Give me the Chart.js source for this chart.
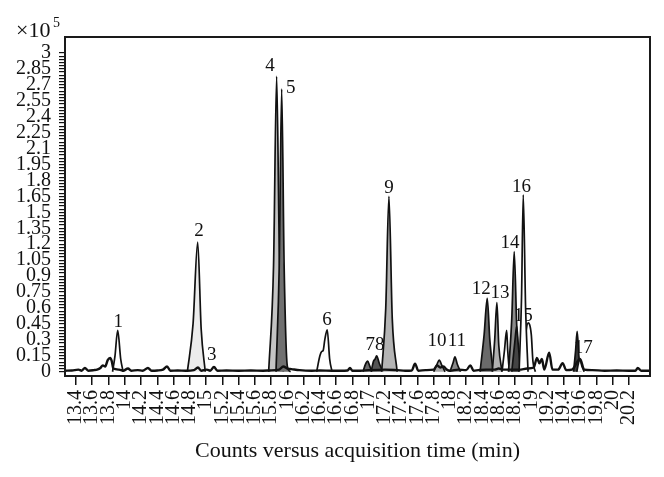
<!DOCTYPE html>
<html>
<head>
<meta charset="utf-8">
<script src="https://cdn.jsdelivr.net/npm/chart.js@4.4.1/dist/chart.umd.min.js"></script>
<style>
  html, body { margin: 0; padding: 0; background: #ffffff; }
  #wrap { width: 664px; height: 477px; }
</style>
</head>
<body>
<div id="wrap"><canvas id="c" width="664" height="477"></canvas></div>
<script>
// ---------- DATA ----------
const xTicks = [13.4,13.6,13.8,14,14.2,14.4,14.6,14.8,15,15.2,15.4,15.6,15.8,16,16.2,16.4,16.6,16.8,17,17.2,17.4,17.6,17.8,18,18.2,18.4,18.6,18.8,19,19.2,19.4,19.6,19.8,20,20.2];
const xTickLabels = ["13.4","13.6","13.8","14","14.2","14.4","14.6","14.8","15","15.2","15.4","15.6","15.8","16","16.2","16.4","16.6","16.8","17","17.2","17.4","17.6","17.8","18","18.2","18.4","18.6","18.8","19","19.2","19.4","19.6","19.8","20","20.2"];
const yTickLabels = ["0","0.15","0.3","0.45","0.6","0.75","0.9","1.05","1.2","1.35","1.5","1.65","1.8","1.95","2.1","2.25","2.4","2.55","2.7","2.85","3"];
const yMinorStep = 0.03;

// baseline trace (counts x10^5 vs minutes)
const baseT = [13.265,13.35,13.43,13.47,13.51,13.55,13.62,13.66,13.70,13.73,13.76,13.79,13.82,13.84,13.86,13.93,13.98,14.04,14.08,14.16,14.22,14.285,14.33,14.40,14.47,14.52,14.56,14.65,14.75,14.85,14.90,14.94,15.01,15.05,15.097,15.14,15.25,15.40,15.55,15.70,15.78,15.90,15.95,16.00,16.05,16.15,16.30,16.40,16.55,16.65,16.74,16.77,16.80,16.90,17.00,17.20,17.35,17.45,17.53,17.57,17.61,17.70,17.80,17.84,17.88,17.92,17.96,18.00,18.10,18.20,18.25,18.29,18.35,18.45,18.55,18.60,18.65,18.75,18.85,18.95,19.03,19.07,19.10,19.13,19.16,19.22,19.26,19.33,19.385,19.43,19.50,19.60,19.65,19.75,19.90,20.05,20.20,20.28,20.31,20.35,20.46];
const baseV = [0.010,0.012,0.020,0.010,0.035,0.010,0.015,0.020,0.035,0.060,0.050,0.110,0.130,0.100,0.030,0.020,0.010,0.030,0.010,0.015,0.010,0.035,0.010,0.012,0.020,0.050,0.010,0.012,0.010,0.015,0.040,0.010,0.020,0.010,0.045,0.010,0.012,0.010,0.012,0.010,0.012,0.020,0.050,0.030,0.025,0.015,0.010,0.012,0.010,0.010,0.012,0.035,0.010,0.010,0.015,0.020,0.015,0.010,0.012,0.075,0.010,0.015,0.020,0.060,0.040,0.050,0.020,0.010,0.020,0.015,0.060,0.010,0.015,0.020,0.020,0.030,0.020,0.020,0.020,0.030,0.040,0.130,0.080,0.120,0.020,0.180,0.020,0.020,0.080,0.015,0.020,0.120,0.020,0.015,0.010,0.012,0.010,0.010,0.035,0.010,0.010];

const p1T = [13.85,13.88,13.913,13.95,13.98];        const p1V = [0,0.15,0.39,0.12,0];
const p2T = [14.77,14.84,14.897,14.94,14.99];        const p2V = [0,0.45,1.22,0.40,0];
const p4T = [15.77,15.83,15.868,15.90,15.95];        const p4V = [0,1.00,2.78,1.20,0];
const p5T = [15.86,15.90,15.93,15.96,16.00,16.04];   const p5V = [0,1.00,2.66,1.00,0.05,0];
const p6T = [16.36,16.40,16.421,16.44,16.46,16.49,16.52,16.55]; const p6V = [0,0.15,0.19,0.20,0.30,0.395,0.12,0];
const p7T = [16.93,16.96,16.987,17.01,17.04];        const p7V = [0,0.07,0.10,0.06,0];
const p8T = [17.03,17.06,17.08,17.098,17.13,17.175]; const p8V = [0,0.10,0.12,0.15,0.08,0];
const p9T = [17.16,17.21,17.249,17.29,17.35];        const p9V = [0,0.60,1.65,0.50,0];
const p10T = [17.80,17.84,17.868,17.90,17.94];       const p10V = [0,0.07,0.11,0.06,0];
const p11T = [18.00,18.04,18.061,18.09,18.13];       const p11V = [0,0.09,0.14,0.07,0];
const p12T = [18.37,18.42,18.458,18.49,18.53];       const p12V = [0,0.35,0.69,0.30,0];
const p13T = [18.52,18.55,18.577,18.60,18.64];       const p13V = [0,0.30,0.65,0.25,0];
const p13bT = [18.64,18.67,18.697,18.71,18.73];      const p13bV = [0,0.20,0.39,0.20,0];
const p14T = [18.72,18.76,18.79,18.82,18.85];        const p14V = [0,0.50,1.13,0.45,0];
const p14bT = [18.76,18.80,18.82,18.84,18.87];       const p14bV = [0,0.30,0.43,0.25,0];
const p15T = [18.86,18.92,18.96,19.00,19.02,19.05];  const p15V = [0,0.30,0.46,0.35,0.10,0];
const p16T = [18.85,18.88,18.901,18.93,18.96];       const p16V = [0,0.70,1.665,0.60,0];
const p17T = [19.52,19.545,19.564,19.585,19.61];     const p17V = [0,0.20,0.38,0.15,0];
const p17bT = [19.56,19.58,19.598,19.62,19.65];      const p17bV = [0,0.08,0.12,0.06,0];

const peakLabels = ["1","2","3","4","5","6","78","9","10","11","12","13","14","15","16","17"];
const peakLabelT = [13.920,14.913,15.069,15.786,16.040,16.487,17.077,17.249,17.840,18.085,18.385,18.614,18.737,18.900,18.881,19.640];
const peakLabelV = [0.47,1.32,0.16,2.88,2.67,0.49,0.25,1.73,0.285,0.285,0.78,0.745,1.21,0.52,1.74,0.226];

// ---------- STYLE ----------
const SERIF = "'Liberation Serif', 'DejaVu Serif', serif";
const labelsBehind = ["15", "17"];   // these are partly hidden by peaks in the original
function pts(t, v) { return t.map((x, i) => ({ x: x, y: v[i] })); }
function peak(t, v, fillColor, order) {
  return {
    data: pts(t, v), fill: 'origin', backgroundColor: fillColor,
    borderColor: '#111', borderWidth: 1.7, pointRadius: 0,
    cubicInterpolationMode: 'monotone', order: order
  };
}
const datasets = [
  { data: pts(baseT, baseV), fill: false, borderColor: '#111', borderWidth: 2.4, pointRadius: 0, cubicInterpolationMode: 'monotone', order: 0 },
  peak(p16T, p16V, '#ffffff', 1),
  peak(p15T, p15V, '#ffffff', 2),
  peak(p14bT, p14bV, '#444444', 3),
  peak(p14T, p14V, '#8c8c8c', 4),
  peak(p13bT, p13bV, '#ffffff', 5),
  peak(p13T, p13V, '#b0b0b0', 6),
  peak(p12T, p12V, '#6a6a6a', 7),
  peak(p11T, p11V, '#8a8a8a', 8),
  peak(p10T, p10V, '#a8a8a8', 9),
  peak(p9T, p9V, '#b4b4b4', 10),
  peak(p8T, p8V, '#555555', 11),
  peak(p7T, p7V, '#6e6e6e', 12),
  peak(p6T, p6V, '#ffffff', 13),
  peak(p5T, p5V, '#707070', 14),
  peak(p4T, p4V, '#c4c4c4', 15),
  peak(p2T, p2V, '#ececec', 16),
  peak(p1T, p1V, '#ffffff', 17),
  peak(p17bT, p17bV, '#ffffff', 18),
  peak(p17T, p17V, '#3c3c3c', 19)
];

function drawLabels(chart, behind) {
  const ctx = chart.ctx, xs = chart.scales.x, ys = chart.scales.y;
  ctx.save();
  ctx.fillStyle = '#111';
  ctx.font = '19px ' + SERIF;
  ctx.textAlign = 'center';
  ctx.textBaseline = 'middle';
  peakLabels.forEach((s, i) => {
    if ((labelsBehind.indexOf(s) >= 0) !== behind) return;
    ctx.fillText(s, xs.getPixelForValue(peakLabelT[i]), ys.getPixelForValue(peakLabelV[i]));
  });
  ctx.restore();
}

const decor = {
  id: 'decor',
  beforeDatasetsDraw(chart) { drawLabels(chart, true); },
  afterDatasetsDraw(chart) { drawLabels(chart, false); },
  afterDraw(chart) {
    const ctx = chart.ctx, a = chart.chartArea;
    ctx.save();
    ctx.strokeStyle = '#1a1a1a';
    ctx.lineWidth = 2;
    ctx.strokeRect(a.left, a.top, a.right - a.left, a.bottom - a.top);
    ctx.fillStyle = '#111';
    ctx.textAlign = 'left';
    ctx.textBaseline = 'alphabetic';
    ctx.font = '22px ' + SERIF;
    ctx.fillText('\u00d710', 16, 37);
    ctx.font = '14px ' + SERIF;
    ctx.fillText('5', 53, 27);
    ctx.restore();
  }
};

new Chart(document.getElementById('c'), {
  type: 'line',
  data: { datasets: datasets },
  options: {
    responsive: false, animation: false, devicePixelRatio: 1,
    layout: { padding: { top: 37, right: 14, left: 0, bottom: 0 } },
    plugins: { legend: { display: false }, tooltip: { enabled: false } },
    scales: {
      x: {
        type: 'linear', min: 13.265, max: 20.46,
        afterBuildTicks: s => { s.ticks = xTicks.map(v => ({ value: v })); },
        afterFit: s => { s.height = 101; },
        grid: { drawOnChartArea: false, drawTicks: true, tickLength: 9, color: '#111', lineWidth: 1.5 },
        border: { display: true, color: '#1a1a1a', width: 2 },
        ticks: {
          autoSkip: false, maxRotation: 90, minRotation: 90, padding: 5, color: '#111',
          font: { family: SERIF, size: 20 },
          callback: (v, i) => xTickLabels[i]
        },
        title: { display: true, text: 'Counts versus acquisition time (min)', color: '#111',
                 font: { family: SERIF, size: 22 }, padding: { top: 0, bottom: 13 } }
      },
      y: {
        type: 'linear', min: -0.04, max: 3.15,
        afterBuildTicks: s => {
          const arr = [];
          for (let k = 0; k <= 100; k++) arr.push({ value: +(k * yMinorStep).toFixed(2) });
          s.ticks = arr;
        },
        afterFit: s => { s.width = 65; },
        grid: { drawOnChartArea: false, drawTicks: true, tickLength: 6, color: '#111', lineWidth: 1.2 },
        border: { display: true, color: '#1a1a1a', width: 2 },
        ticks: {
          autoSkip: false, padding: 8, color: '#111',
          font: { family: SERIF, size: 20 },
          callback: (v, i) => (i % 5 === 0 ? yTickLabels[i / 5] : '')
        }
      }
    }
  },
  plugins: [decor]
});
</script>
</body>
</html>
